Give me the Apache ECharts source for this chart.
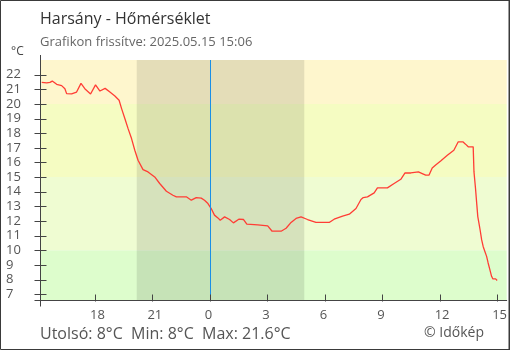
<!DOCTYPE html>
<html>
<head>
<meta charset="utf-8">
<script src="https://cdn.jsdelivr.net/npm/echarts@6/dist/echarts.min.js"></script>
<style>
html,body{margin:0;padding:0;background:#fff;}
#chart{width:510px;height:350px;}
</style>
</head>
<body>
<div id="chart"></div>
<script>
// Hours relative to midnight of 2025.05.15 (negative = previous day)
const hours = [-8.78,-8.52,-8.35,-8.23,-8.0,-7.74,-7.57,-7.48,-7.22,-6.96,-6.73,-6.53,-6.23,-5.97,-5.74,-5.47,-5.22,-4.96,-4.74,-4.61,-4.44,-4.27,-4.09,-3.92,-3.75,-3.49,-3.23,-2.88,-2.62,-2.27,-1.93,-1.75,-1.23,-0.97,-0.71,-0.45,-0.28,-0.10,0.07,0.24,0.42,0.54,0.77,1.03,1.23,1.51,1.76,1.93,2.5,3.02,3.25,3.72,3.98,4.24,4.5,4.76,5.1,5.54,6.23,6.49,6.93,7.28,7.63,7.89,8.01,8.23,8.58,8.75,9.27,9.62,9.97,10.19,10.49,10.89,11.09,11.27,11.44,11.61,11.79,12.05,12.4,12.74,12.97,13.21,13.35,13.49,13.75,13.79,13.87,13.94,13.99,14.05,14.11,14.19,14.27,14.36,14.45,14.53,14.62,14.71,14.78,14.92,15.0];
const temps = [21.47,21.43,21.47,21.56,21.34,21.25,21.04,20.7,20.68,20.81,21.4,21.04,20.68,21.3,20.88,21.06,20.81,20.54,20.25,19.68,19.0,18.31,17.63,16.83,16.15,15.51,15.35,15.01,14.56,14.03,13.76,13.65,13.65,13.42,13.6,13.56,13.42,13.19,12.85,12.4,12.21,12.05,12.28,12.1,11.87,12.12,12.1,11.78,11.73,11.67,11.3,11.3,11.5,11.9,12.17,12.28,12.1,11.9,11.9,12.12,12.33,12.46,12.85,13.47,13.6,13.65,13.92,14.26,14.26,14.56,14.85,15.28,15.28,15.35,15.24,15.13,15.13,15.62,15.83,16.1,16.49,16.83,17.41,17.41,17.25,17.07,17.07,15.37,14.24,13.1,12.3,11.85,11.4,10.72,10.26,9.92,9.58,9.13,8.67,8.22,8.04,8.04,7.93];

const xTicks = [-6,-3,0,3,6,9,12,15];
const yTicks = [7,8,9,10,11,12,13,14,15,16,17,18,19,20,21,22];
const xRange = [-8.87, 15.5];
const yRange = [6.6, 23];
const bandLimits = [10, 15, 20];       // temperature band edges
const nightSpan = [-3.82, 4.93];       // sunset 20:11 -> sunrise 04:56
const midnight = 0;

const titleText = 'Harsány - Hőmérséklet';
const subtitleText = 'Grafikon frissítve: 2025.05.15 15:06';
const summaryText = 'Utolsó: 8°C  Min: 8°C  Max: 21.6°C';
const creditText = '© Időkép';
const unitText = '°C';

const FONT = '"Open Sans", "Noto Sans", sans-serif';
const axisColor = '#444';
const bandColors = ['#ddfdcc', '#effcd2', '#f5fcc2', '#fef6cd'];

const chart = echarts.init(document.getElementById('chart'), null, {renderer: 'canvas'});
const lineData = hours.map((h, i) => [h, temps[i]]);

const bandEdges = [yRange[0]].concat(bandLimits, [yRange[1]]);
const bandAreas = [];
for (let i = 0; i < bandEdges.length - 1; i++) {
  bandAreas.push([{yAxis: bandEdges[i], itemStyle: {color: bandColors[i]}}, {yAxis: bandEdges[i + 1]}]);
}

const hourFmt = v => String(((Math.round(v) % 24) + 24) % 24);
const titleStyle = (size, color) => ({fontFamily: FONT, fontSize: size, fontWeight: 'normal', color: color});

const option = {
  animation: false,
  textStyle: {fontFamily: FONT},
  title: [
    {text: titleText, left: 40, top: 11, padding: 0, textStyle: titleStyle(16, '#333')},
    {text: subtitleText, left: 40, top: 36, padding: 0, textStyle: titleStyle(13, '#666')},
    {text: unitText, left: 11, top: 46, padding: 0, textStyle: titleStyle(12, '#444')},
    {text: summaryText, left: 40, top: 326, padding: 0, textStyle: titleStyle(16, '#555')},
    {text: creditText, left: 424, top: 326, padding: 0, textStyle: titleStyle(14, '#555')}
  ],
  grid: {left: 40, right: 2, top: 60, bottom: 50, containLabel: false},
  xAxis: {
    type: 'value', min: xRange[0], max: xRange[1], position: 'bottom', z: 10,
    splitLine: {show: false},
    axisLine: {show: true, onZero: false, lineStyle: {color: axisColor, width: 1}},
    axisTick: {show: false},
    axisLabel: {show: true, customValues: xTicks, formatter: hourFmt, align: 'left', padding: [0, 0, 0, -5], margin: 9, color: '#555', fontSize: 13, fontFamily: FONT}
  },
  yAxis: {
    type: 'value', min: yRange[0], max: yRange[1], position: 'left', z: 10,
    splitLine: {show: false},
    axisLine: {show: true, onZero: false, lineStyle: {color: axisColor, width: 1}},
    axisTick: {show: false},
    axisLabel: {show: true, customValues: yTicks, align: 'left', margin: 34, color: '#555', fontSize: 13, fontFamily: FONT}
  },
  series: [
    {
      type: 'line', data: [], z: -2, silent: true,
      markArea: {silent: true, data: bandAreas}
    },
    {
      type: 'line', data: [], z: -1, silent: true,
      markArea: {silent: true, itemStyle: {color: 'rgba(0,0,0,0.1)'}, data: [[{xAxis: nightSpan[0]}, {xAxis: nightSpan[1]}]]}
    },
    {
      type: 'line', data: lineData, z: 3, showSymbol: false, symbol: 'none', silent: true,
      lineStyle: {color: '#ff3d35', width: 1.3},
      markLine: {silent: true, symbol: 'none', label: {show: false},
        lineStyle: {color: '#1a8fe6', width: 1, type: 'solid'},
        data: [{xAxis: midnight}]}
    }
  ]
};
chart.setOption(option);

// tick marks placed through the chart's own scales; axis-line extensions; frame
const px = (x, y) => chart.convertToPixel({xAxisIndex: 0, yAxisIndex: 0}, [x, y]);
const cornerPx = px(xRange[0], yRange[0]);
const topPx = px(xRange[0], yRange[1]);
const cx = Math.round(cornerPx[0]) + 0.5, cy = Math.round(cornerPx[1]) + 0.5, ty = Math.round(topPx[1]);
const tickStyle = {stroke: axisColor, lineWidth: 1};
const graphics = [];
xTicks.forEach(v => {
  const p = px(v, yRange[0]);
  const x = Math.round(p[0]) + 0.5;
  graphics.push({type: 'line', shape: {x1: x, y1: cy - 6, x2: x, y2: cy + 1}, style: tickStyle, z: 100});
});
yTicks.forEach(v => {
  const p = px(xRange[0], v);
  const y = Math.round(p[1]) + 0.5;
  graphics.push({type: 'line', shape: {x1: cx - 6, y1: y, x2: cx + 6, y2: y}, style: tickStyle, z: 100});
});
graphics.push(
  {type: 'line', shape: {x1: cx, y1: ty - 5, x2: cx, y2: cy + 6}, style: tickStyle, z: 100},
  {type: 'line', shape: {x1: cx - 6, y1: cy, x2: cx, y2: cy}, style: tickStyle, z: 100},
  {type: 'rect', shape: {x: 0.5, y: 0.5, width: 508.5, height: 349}, style: {fill: 'none', stroke: '#3a3a3a', lineWidth: 1}, z: 100},
  {type: 'line', shape: {x1: 509.5, y1: 0, x2: 509.5, y2: 350}, style: {stroke: '#3a3a3a', lineWidth: 1}, z: 100}
);
chart.setOption({graphic: graphics});
</script>
</body>
</html>
